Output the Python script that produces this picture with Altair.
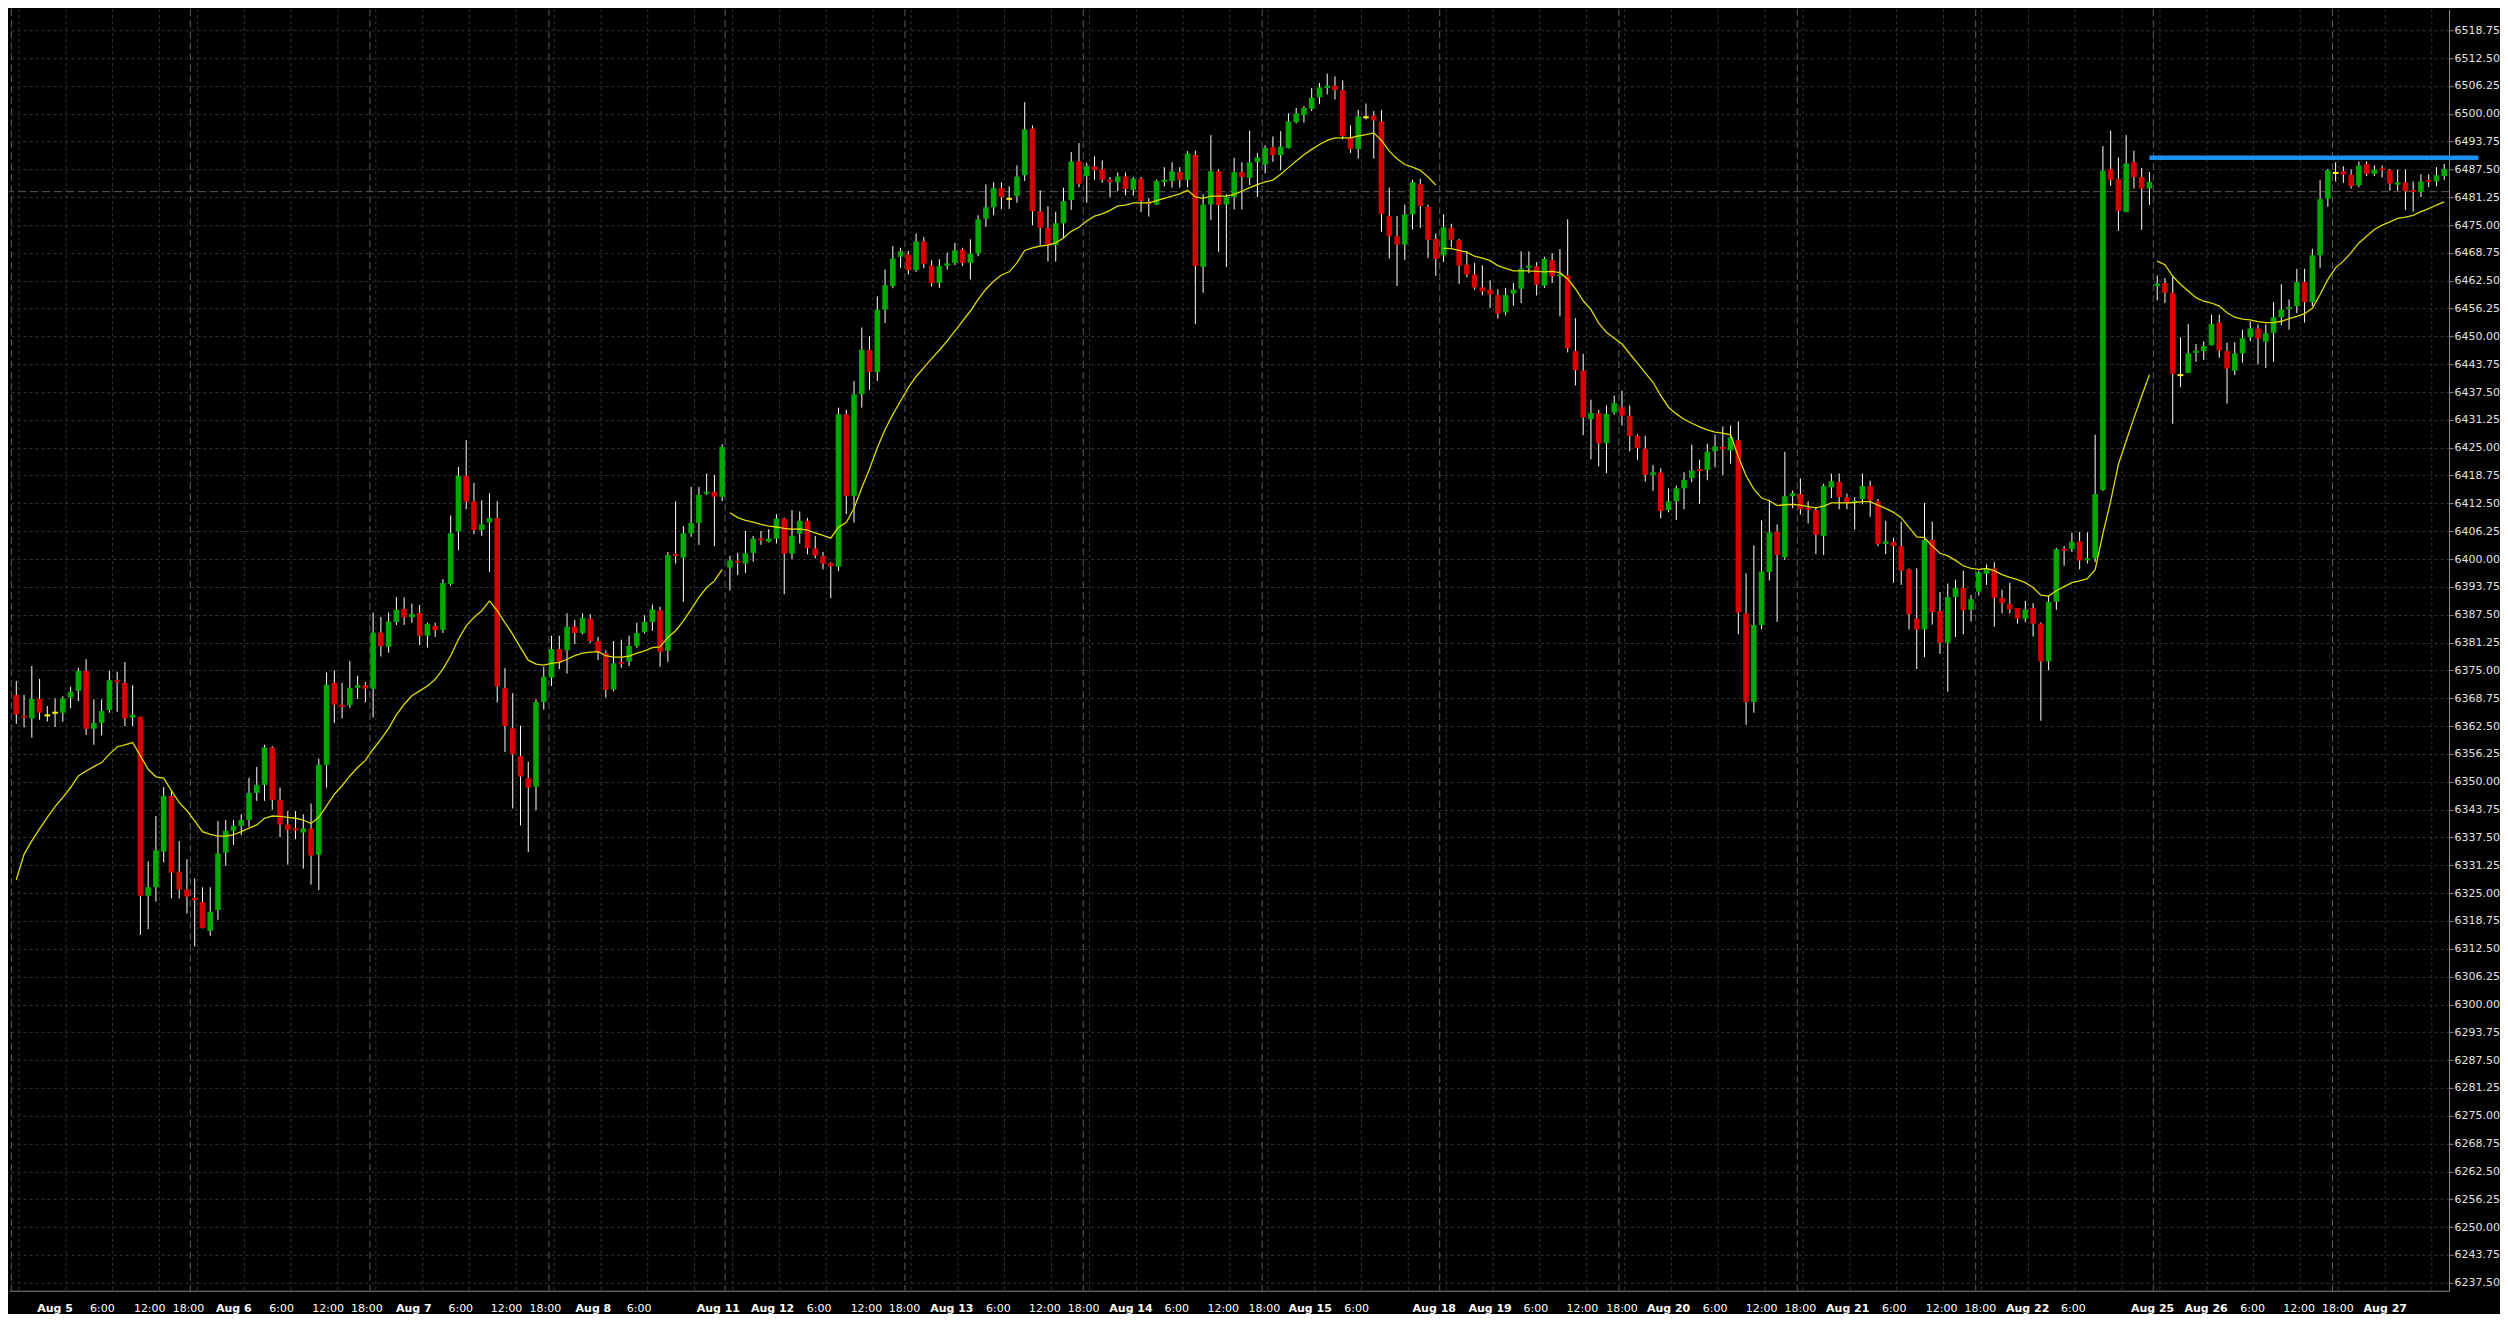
import altair as alt
import pandas as pd

# ---------------- data (hourly candles, index 0..313) ----------------
opens = [
6369.5,6364.8,6364.2,6368.6,6364.9,6365.5,6365.5,6368.9,6370.4,6374.9,
6361.9,6363.2,6366.1,6372.8,6372.2,6364.4,6364.6,6324.4,6326.3,6334.3,
6346.8,6329.8,6325.8,6323.9,6323.0,6316.5,6321.2,6334.1,6339.0,6340.1,
6341.4,6347.5,6349.3,6357.7,6345.9,6340.4,6339.5,6338.6,6339.5,6333.6,
6353.8,6372.2,6367.3,6367.2,6371.1,6371.7,6370.9,6383.5,6380.3,6385.9,
6388.8,6386.9,6387.9,6382.8,6385.0,6384.1,6394.4,6406.2,6418.7,6413.0,
6406.5,6408.2,6409.2,6371.0,6362.0,6355.7,6350.8,6348.9,6367.9,6373.4,
6379.8,6379.5,6384.8,6383.4,6386.6,6381.6,6378.9,6370.7,6376.9,6377.0,
6380.5,6383.6,6385.9,6388.5,6379.4,6401.1,6400.3,6405.8,6408.1,6414.7,
6415.1,6414.0,6398.1,6399.6,6399.0,6401.4,6404.6,6403.9,6404.6,6409.1,
6401.2,6405.7,6408.6,6402.4,6400.7,6399.1,6398.3,6432.5,6414.2,6437.0,
6447.0,6442.0,6456.0,6461.3,6467.9,6468.4,6464.9,6471.3,6465.9,6462.0,
6465.8,6466.5,6469.5,6466.5,6468.6,6476.4,6479.0,6483.3,6480.9,6481.5,
6486.2,6496.7,6478.1,6474.4,6470.5,6475.4,6480.6,6489.3,6486.0,6488.2,
6487.5,6485.2,6484.6,6485.9,6482.9,6485.4,6480.2,6479.6,6484.7,6484.9,
6486.9,6485.1,6490.7,6465.6,6479.6,6487.1,6479.6,6481.3,6486.9,6485.6,
6489.1,6488.6,6492.5,6490.7,6492.3,6498.1,6499.7,6501.1,6503.7,6505.8,
6506.3,6505.3,6494.7,6492.1,6499.2,6499.6,6498.3,6477.0,6472.5,6470.6,
6477.4,6484.2,6479.1,6471.9,6468.2,6474.4,6471.6,6466.1,6463.9,6461.0,
6460.5,6459.3,6455.4,6459.6,6460.7,6465.4,6465.8,6461.4,6467.1,6463.5,
6463.7,6446.7,6442.3,6431.4,6432.8,6426.0,6432.9,6434.1,6432.2,6427.7,
6424.8,6418.9,6419.4,6411.0,6413.0,6415.9,6418.2,6420.2,6420.0,6424.2,
6425.2,6424.4,6426.7,6387.8,6367.9,6385.2,6397.1,6406.2,6400.4,6414.1,
6414.6,6411.5,6411.0,6405.2,6416.1,6417.3,6413.9,6412.6,6413.5,6416.4,
6413.0,6403.4,6403.9,6402.9,6397.7,6386.6,6384.2,6404.3,6388.3,6381.2,
6391.5,6393.5,6388.6,6392.7,6396.7,6397.9,6391.3,6389.9,6389.0,6386.6,
6389.0,6385.5,6377.0,6390.4,6402.3,6402.3,6404.0,6399.7,6400.2,6415.5,
6487.5,6485.3,6477.9,6489.1,6485.8,6483.2,6461.3,6462.0,6459.8,6441.3,
6441.8,6446.3,6446.7,6448.0,6453.1,6446.7,6442.3,6446.2,6449.8,6451.8,
6448.8,6450.8,6454.3,6456.1,6456.8,6462.2,6457.7,6468.2,6480.9,6486.7,
6487.1,6486.3,6483.9,6488.7,6486.5,6487.7,6487.3,6484.1,6484.6,6482.8,
6482.4,6485.1,6484.8,6486.0]

highs = [
6372.6,6369.5,6376.0,6373.1,6367.0,6368.7,6369.2,6371.3,6375.6,6377.5,
6368.5,6368.5,6374.9,6374.7,6376.9,6371.7,6364.6,6332.1,6342.3,6348.8,
6347.9,6336.7,6332.6,6328.3,6326.3,6326.3,6341.2,6341.4,6341.4,6342.7,
6350.9,6353.3,6358.3,6358.0,6348.7,6343.4,6343.4,6342.7,6345.1,6355.2,
6374.5,6375.0,6372.2,6377.1,6373.8,6372.4,6388.0,6387.0,6388.0,6391.5,
6391.4,6390.0,6389.7,6385.7,6385.7,6395.5,6409.8,6420.7,6426.7,6417.1,
6413.2,6414.8,6413.0,6375.5,6369.9,6362.6,6354.5,6368.5,6375.8,6382.8,
6382.8,6387.8,6386.3,6387.8,6387.6,6382.5,6379.5,6381.6,6381.9,6382.8,
6385.7,6387.4,6389.8,6389.3,6401.6,6413.0,6407.4,6416.2,6416.2,6419.2,
6418.9,6425.8,6400.7,6401.4,6406.3,6405.2,6406.3,6406.7,6410.1,6409.3,
6411.0,6410.7,6409.2,6405.2,6401.6,6399.3,6434.0,6433.5,6440.0,6452.0,
6450.0,6459.0,6465.0,6470.3,6469.9,6469.2,6473.1,6472.3,6467.1,6467.3,
6468.8,6471.0,6469.9,6471.8,6477.2,6484.1,6484.6,6484.6,6483.7,6488.4,
6502.6,6497.4,6482.8,6479.2,6478.0,6483.4,6491.4,6493.4,6489.0,6490.4,
6489.5,6485.8,6486.8,6486.8,6485.8,6485.8,6481.1,6485.2,6488.0,6489.1,
6488.0,6491.6,6491.7,6481.9,6495.2,6487.5,6481.9,6490.1,6489.1,6496.2,
6491.2,6492.9,6494.9,6496.1,6500.1,6501.3,6501.7,6505.8,6506.9,6509.0,
6508.4,6507.5,6497.4,6500.9,6502.3,6500.6,6500.8,6483.4,6477.0,6479.6,
6485.2,6485.4,6479.6,6473.1,6477.4,6475.3,6471.9,6469.1,6466.5,6466.0,
6462.6,6460.6,6460.9,6462.0,6469.1,6469.1,6466.7,6467.9,6468.7,6469.6,
6476.3,6454.1,6446.1,6435.8,6433.5,6434.5,6436.7,6437.8,6434.5,6428.0,
6427.7,6421.1,6420.4,6415.9,6416.5,6419.5,6425.7,6422.3,6425.9,6427.9,
6429.8,6430.0,6430.9,6396.8,6403.1,6408.7,6413.3,6407.8,6424.1,6415.4,
6418.1,6413.0,6411.5,6416.9,6419.2,6419.2,6414.7,6413.9,6419.2,6417.6,
6413.5,6408.6,6404.8,6408.4,6397.9,6397.9,6412.6,6408.4,6392.6,6394.5,
6395.4,6397.4,6391.9,6397.4,6398.8,6399.3,6393.1,6394.7,6389.0,6390.6,
6390.1,6385.8,6391.8,6402.5,6402.9,6405.9,6406.1,6406.0,6427.9,6492.7,
6496.2,6490.2,6495.2,6491.7,6487.8,6486.9,6463.7,6463.1,6463.4,6449.8,
6452.8,6448.3,6448.9,6454.9,6454.9,6448.6,6448.7,6451.5,6453.4,6452.7,
6452.7,6457.7,6461.7,6458.3,6465.2,6465.2,6469.7,6485.1,6487.6,6489.1,
6488.2,6487.5,6489.3,6489.3,6488.4,6488.4,6487.6,6487.5,6487.5,6484.8,
6486.4,6486.4,6488.0,6488.7]

lows = [
6363.0,6362.2,6359.9,6363.9,6363.5,6362.3,6363.5,6366.5,6368.1,6360.5,
6358.3,6360.4,6365.5,6365.7,6362.5,6362.5,6315.6,6316.9,6323.1,6331.9,
6323.8,6323.8,6320.4,6313.0,6317.1,6315.4,6319.0,6331.1,6335.8,6338.0,
6339.9,6345.7,6345.7,6343.7,6337.5,6331.4,6337.1,6330.5,6326.9,6325.7,
6348.7,6363.2,6364.2,6366.6,6368.6,6367.8,6364.4,6378.1,6379.0,6385.2,
6385.2,6385.7,6380.7,6380.1,6382.5,6383.4,6394.0,6402.0,6411.2,6405.6,
6405.2,6397.1,6367.8,6356.7,6344.0,6340.2,6334.2,6343.6,6366.2,6371.5,
6375.3,6374.3,6380.9,6383.1,6381.2,6377.3,6368.9,6370.3,6375.6,6376.0,
6380.1,6383.3,6383.9,6375.8,6376.9,6399.0,6390.4,6405.0,6403.2,6414.4,
6402.9,6413.0,6392.9,6396.4,6396.9,6399.4,6403.2,6403.7,6403.5,6392.1,
6400.0,6403.5,6401.1,6400.2,6397.7,6391.2,6397.3,6410.1,6408.2,6434.0,
6438.0,6440.0,6453.0,6460.8,6465.4,6463.9,6464.5,6465.3,6461.2,6460.9,
6465.0,6466.0,6465.8,6462.8,6468.0,6474.6,6477.2,6478.6,6478.6,6480.0,
6484.9,6475.0,6470.6,6466.8,6466.8,6472.1,6478.4,6483.5,6480.0,6485.2,
6484.5,6481.3,6482.6,6481.7,6481.6,6477.9,6476.9,6479.5,6483.7,6483.4,
6483.4,6483.5,6452.8,6459.8,6476.1,6469.0,6465.6,6478.5,6478.5,6484.0,
6481.3,6486.6,6489.2,6487.3,6492.2,6497.8,6498.0,6500.6,6502.2,6504.3,
6503.2,6494.2,6491.2,6489.9,6498.7,6489.9,6473.5,6467.5,6461.3,6467.2,
6474.0,6474.4,6467.6,6463.6,6466.7,6470.0,6461.8,6463.3,6460.5,6459.2,
6456.4,6454.0,6454.7,6456.9,6457.5,6464.2,6459.2,6460.9,6462.0,6454.5,
6446.4,6439.0,6427.8,6422.4,6420.8,6419.3,6432.4,6430.0,6424.2,6422.3,
6417.4,6415.3,6409.1,6410.5,6408.8,6411.2,6417.3,6412.4,6417.7,6420.6,
6418.9,6421.4,6383.1,6362.8,6365.5,6384.2,6395.2,6385.9,6399.8,6411.4,
6410.0,6408.0,6401.1,6400.9,6413.7,6411.2,6411.2,6406.6,6412.3,6409.5,
6402.9,6401.1,6394.7,6394.2,6384.2,6375.3,6378.0,6385.3,6378.7,6370.2,
6382.5,6383.1,6386.0,6391.8,6394.2,6384.8,6387.8,6387.8,6385.5,6385.8,
6382.6,6363.7,6375.0,6388.6,6398.5,6401.6,6397.7,6399.0,6399.3,6415.3,
6483.8,6473.7,6477.9,6483.2,6473.9,6479.5,6458.1,6457.5,6430.4,6438.6,
6441.8,6444.3,6444.7,6448.0,6445.2,6434.9,6441.3,6444.1,6448.9,6443.7,
6442.9,6444.3,6452.5,6451.5,6455.2,6453.1,6456.8,6465.4,6479.1,6484.8,
6484.5,6483.2,6483.5,6486.0,6486.0,6485.7,6482.7,6482.7,6478.4,6478.0,
6481.3,6483.5,6483.7,6485.1]

closes = [
6365.1,6364.4,6368.6,6365.5,6364.9,6365.5,6368.7,6370.2,6374.9,6361.9,
6363.2,6365.9,6372.8,6372.3,6364.2,6365.0,6324.4,6326.3,6334.6,6346.8,
6329.6,6325.8,6324.2,6323.4,6317.1,6320.8,6333.9,6339.0,6340.1,6341.4,
6347.5,6349.3,6357.7,6345.9,6340.4,6339.2,6339.1,6339.5,6333.4,6353.8,
6371.8,6367.3,6366.8,6371.1,6371.7,6370.9,6383.5,6380.5,6386.0,6388.6,
6386.9,6387.7,6382.8,6385.4,6384.0,6394.6,6405.8,6418.7,6412.9,6406.5,
6407.8,6409.2,6371.4,6362.5,6356.2,6351.2,6348.7,6367.9,6373.6,6379.8,
6377.0,6384.8,6383.4,6386.8,6381.6,6379.0,6370.6,6376.6,6376.5,6380.5,
6383.4,6385.9,6388.7,6379.2,6400.9,6400.8,6405.8,6408.1,6414.4,6415.1,
6414.0,6425.2,6399.7,6399.2,6401.3,6404.6,6404.2,6404.6,6409.1,6401.2,
6405.2,6408.6,6402.4,6400.8,6399.0,6398.4,6432.5,6414.2,6437.0,6447.0,
6442.0,6456.0,6461.5,6467.5,6469.1,6464.9,6471.3,6466.3,6462.0,6465.8,
6466.4,6469.3,6466.5,6468.6,6476.3,6479.0,6483.3,6481.3,6480.9,6485.9,
6496.5,6478.1,6474.4,6470.5,6475.4,6480.4,6489.3,6484.3,6488.2,6487.3,
6485.2,6484.7,6485.9,6483.1,6485.4,6480.4,6479.8,6484.9,6485.2,6487.1,
6485.1,6491.1,6465.8,6479.6,6487.1,6479.5,6481.3,6486.9,6485.8,6489.1,
6490.2,6492.3,6490.7,6492.6,6498.3,6500.1,6501.3,6503.6,6505.9,6506.3,
6505.3,6495.0,6492.1,6499.4,6499.2,6498.5,6477.5,6472.5,6470.6,6477.4,
6484.6,6479.3,6471.7,6467.4,6474.5,6471.7,6465.9,6463.9,6461.0,6460.1,
6459.4,6455.1,6459.3,6460.5,6465.2,6465.9,6461.6,6467.4,6463.5,6463.9,
6447.3,6442.4,6431.8,6432.8,6426.0,6432.6,6435.0,6432.2,6427.6,6424.9,
6418.9,6419.5,6410.8,6413.0,6415.9,6417.8,6419.9,6419.8,6424.1,6425.3,
6424.7,6427.3,6388.0,6367.9,6385.2,6397.2,6406.0,6400.9,6414.1,6414.8,
6411.2,6411.1,6405.5,6416.4,6417.5,6413.9,6412.6,6413.0,6416.4,6413.2,
6403.4,6404.0,6402.9,6397.4,6387.6,6384.2,6404.3,6388.1,6381.2,6391.5,
6393.5,6388.5,6391.0,6397.0,6397.9,6391.3,6390.1,6388.7,6386.6,6388.7,
6385.5,6377.0,6390.4,6402.2,6401.9,6403.9,6399.7,6400.2,6414.6,6487.2,
6485.1,6478.2,6488.8,6485.8,6483.2,6484.7,6461.9,6459.8,6441.6,6441.3,
6446.2,6446.8,6447.8,6452.8,6446.8,6442.8,6446.2,6449.6,6451.8,6449.5,
6450.7,6454.3,6456.0,6456.6,6462.2,6457.7,6468.2,6480.8,6487.3,6486.7,
6486.3,6483.7,6488.4,6486.5,6487.5,6487.3,6484.3,6484.6,6482.6,6482.5,
6484.8,6484.7,6486.2,6487.6]

# moving-average line (yellow), one reading per candle
ma = [
6328.0,6333.7,6336.7,6339.4,6342.0,6344.4,6346.5,6348.7,6351.3,6352.4,
6353.4,6354.3,6356.2,6357.8,6358.3,6358.8,6355.8,6352.8,6351.1,6350.8,
6348.0,6345.3,6343.5,6341.2,6338.8,6338.2,6337.8,6337.8,6338.1,6338.8,
6339.6,6340.3,6341.8,6342.3,6342.2,6342.0,6341.8,6341.4,6340.6,6342.0,
6344.6,6347.2,6349.1,6351.3,6353.2,6354.8,6357.3,6359.5,6362.0,6365.0,
6367.4,6369.3,6370.4,6371.5,6373.0,6375.3,6378.3,6382.0,6385.0,6386.9,
6388.4,6390.6,6388.4,6385.7,6383.1,6380.1,6377.3,6376.4,6376.2,6376.6,
6376.8,6377.5,6378.3,6378.9,6379.1,6379.2,6378.3,6378.0,6378.0,6378.2,
6378.9,6379.4,6380.1,6380.3,6382.4,6383.9,6386.1,6388.7,6391.4,6393.6,
6395.1,6397.7,6410.4,6409.3,6408.7,6408.3,6407.8,6407.4,6407.2,6406.9,
6406.7,6406.8,6406.5,6405.9,6405.3,6404.7,6407.2,6408.2,6411.4,6416.0,
6420.3,6425.0,6429.1,6432.5,6435.5,6438.5,6441.0,6443.0,6445.0,6446.9,
6449.0,6451.2,6453.5,6455.7,6458.3,6460.6,6462.4,6463.8,6464.5,6466.5,
6469.3,6469.9,6470.3,6470.5,6471.0,6472.1,6473.6,6474.5,6475.9,6477.0,
6477.5,6478.3,6479.3,6479.5,6480.0,6480.0,6480.0,6480.5,6481.0,6481.5,
6482.0,6482.8,6481.3,6481.0,6481.5,6481.5,6481.5,6481.9,6482.6,6483.4,
6484.1,6484.7,6485.1,6486.4,6487.9,6489.4,6490.8,6492.0,6493.1,6494.0,
6494.6,6494.6,6494.6,6495.0,6495.3,6495.7,6494.0,6491.6,6489.9,6488.6,
6488.0,6487.3,6485.8,6484.0,6469.8,6469.7,6469.3,6468.9,6468.0,6467.6,
6467.0,6465.9,6465.3,6464.7,6464.7,6464.7,6464.6,6464.5,6464.6,6464.3,
6462.9,6460.7,6458.0,6456.0,6453.0,6450.9,6449.6,6448.3,6446.1,6444.0,
6441.8,6439.7,6436.7,6434.1,6432.6,6431.4,6430.5,6429.7,6429.0,6428.5,
6428.3,6427.9,6423.0,6418.7,6415.7,6413.7,6413.1,6412.0,6412.2,6412.3,
6412.1,6411.8,6411.5,6411.9,6412.6,6412.6,6412.6,6412.7,6412.9,6412.9,
6412.1,6411.4,6410.5,6409.3,6407.1,6405.0,6404.8,6402.9,6401.3,6400.7,
6399.7,6398.5,6397.9,6397.7,6397.9,6397.4,6396.5,6395.9,6395.4,6394.7,
6393.6,6391.9,6391.7,6392.9,6393.8,6394.7,6395.1,6395.6,6397.6,6405.7,
6413.0,6421.3,6426.5,6431.7,6436.6,6441.4,6466.9,6466.1,6463.5,6461.7,
6460.2,6458.7,6457.9,6457.5,6456.8,6455.3,6454.3,6453.9,6453.7,6453.3,
6453.1,6453.1,6453.4,6454.0,6454.5,6455.1,6456.3,6459.4,6462.8,6465.4,
6466.9,6468.8,6471.0,6472.5,6474.0,6475.0,6475.7,6476.5,6476.8,6477.2,
6478.0,6478.7,6479.5,6480.2]

week_starts = [0, 92, 184, 276]
day_starts = [0, 23, 46, 69, 92, 115, 138, 161, 184, 207, 230, 253, 276, 299]
separator_pos = [-0.64, 22.44, 45.59, 68.67, 91.38, 114.56, 137.55, 160.62,
                 183.5, 206.6, 229.6, 252.6, 275.5, 298.6]
minor_offsets = [0.35, 6.4, 12.4, 18.45]

date_labels = ["Aug 5", "Aug 6", "Aug 7", "Aug 8", "Aug 11", "Aug 12", "Aug 13",
               "Aug 14", "Aug 15", "Aug 18", "Aug 19", "Aug 20", "Aug 21",
               "Aug 22", "Aug 25", "Aug 26", "Aug 27"]
date_pos = [4.99, 28.05, 51.25, 74.4, 90.5, 97.5, 120.6, 143.7, 166.8, 182.8,
            190.0, 213.0, 236.1, 259.3, 275.4, 282.3, 305.4]
time_labels = ["6:00", "12:00", "18:00", "6:00", "12:00", "18:00", "6:00", "12:00",
               "18:00", "6:00", "6:00", "12:00", "18:00", "6:00", "12:00", "18:00",
               "6:00", "12:00", "18:00", "6:00", "6:00", "12:00", "18:00", "6:00",
               "12:00", "18:00", "6:00", "12:00", "18:00", "6:00", "6:00", "12:00",
               "18:00"]
time_pos = [11.1, 17.2, 22.2, 34.2, 40.2, 45.2, 57.3, 63.2, 68.2, 80.3, 103.5, 109.6,
            114.5, 126.6, 132.6, 137.6, 149.6, 155.6, 160.9, 172.8, 195.9, 201.9,
            207.0, 219.0, 225.0, 230.0, 242.1, 248.2, 253.2, 265.2, 288.3, 294.3,
            299.3]

price_line = 6482.5
level_value = 6490.1
level_from, level_to = 275.0, 317.4

y_ticks = [6237.5 + 6.25 * k for k in range(46)]

# ---------------- tables ----------------
n = len(opens)
rows = []
for i in range(n):
    o, h, l, c = opens[i], highs[i], lows[i], closes[i]
    h = max(h, o, c)
    l = min(l, o, c)
    top, bot = max(o, c), min(o, c)
    if top - bot < 0.45:
        mid = (top + bot) / 2
        top, bot = mid + 0.225, mid - 0.225
    kind = "up" if c > o else ("down" if c < o else "doji")
    seg = sum(1 for w in week_starts if i >= w)
    rows.append(dict(i=i, xl=i - 0.36, xr=i + 0.36, hi=h, lo=l, top=top, bot=bot,
                     kind=kind, ma=ma[i], seg=seg))
df = pd.DataFrame(rows)

XMIN, XMAX = -0.941, 313.62
YMIN, YMAX = 6235.70, 6523.46
W, H = 2441, 1282

minor = [d + m for d in day_starts for m in minor_offsets if d + m <= XMAX]
df_minor = pd.DataFrame({"x": minor})
df_sep = pd.DataFrame({"x": separator_pos})
df_dates = pd.DataFrame({"t": date_labels, "x": date_pos})
df_times = pd.DataFrame({"t": time_labels, "x": time_pos})
df_price = pd.DataFrame({"y": [price_line]})
df_level = pd.DataFrame({"x": [level_from], "x2": [level_to], "y": [level_value]})

xs = alt.Scale(domain=[XMIN, XMAX], nice=False, zero=False)
ys = alt.Scale(domain=[YMIN, YMAX], nice=False, zero=False)
xax = alt.Axis(orient="bottom", labels=False, ticks=False, grid=False, domain=True,
               domainColor="#8c8c8c", domainWidth=1, title=None)
yax = alt.Axis(orient="right", values=y_ticks, format=".2f", grid=True,
               gridColor="#343434", gridDash=[3, 3], gridWidth=1,
               tickSize=4, tickColor="#8c8c8c", domainColor="#8c8c8c",
               labelColor="#e2e2e2", labelFont="DejaVu Sans", labelFontSize=11,
               labelPadding=1, labelOverlap=False, title=None)

base = alt.Chart(df)

minor_grid = alt.Chart(df_minor).mark_rule(color="#343434", strokeDash=[3, 3], strokeWidth=1).encode(
    x=alt.X("x:Q", scale=xs, axis=xax))
seps = alt.Chart(df_sep).mark_rule(color="#5c5c5c", strokeDash=[7, 4], strokeWidth=1).encode(
    x=alt.X("x:Q", scale=xs, axis=xax))
price = alt.Chart(df_price).mark_rule(color="#5a5a5a", strokeDash=[8, 4], strokeWidth=1).encode(
    y=alt.Y("y:Q", scale=ys, axis=yax))

wicks = base.mark_rule(color="#ffffff", strokeWidth=1).encode(
    x=alt.X("i:Q", scale=xs, axis=xax),
    y=alt.Y("lo:Q", scale=ys, axis=yax),
    y2="hi:Q")

bodies = base.mark_rect().encode(
    x=alt.X("xl:Q", scale=xs, axis=xax),
    x2="xr:Q",
    y=alt.Y("bot:Q", scale=ys, axis=yax),
    y2="top:Q",
    color=alt.Color("kind:N", scale=alt.Scale(domain=["up", "down", "doji"],
                                              range=["#00a800", "#d60000", "#ffff00"]),
                    legend=None))

ma_line = base.mark_line(color="#dcdc00", strokeWidth=1.3).encode(
    x=alt.X("i:Q", scale=xs, axis=xax),
    y=alt.Y("ma:Q", scale=ys, axis=yax),
    detail="seg:N")

level = alt.Chart(df_level).mark_rule(color="#1e90f0", strokeWidth=4.5, clip=False).encode(
    x=alt.X("x:Q", scale=xs, axis=xax), x2="x2:Q",
    y=alt.Y("y:Q", scale=ys, axis=yax))

dates = alt.Chart(df_dates).mark_text(font="DejaVu Sans", fontSize=11, fontWeight="bold",
                                      color="#ffffff", baseline="middle", align="center").encode(
    x=alt.X("x:Q", scale=xs, axis=xax), y=alt.value(H + 18), text="t:N")
times = alt.Chart(df_times).mark_text(font="DejaVu Sans", fontSize=11, fontWeight="normal",
                                      color="#ffffff", baseline="middle", align="center").encode(
    x=alt.X("x:Q", scale=xs, axis=xax), y=alt.value(H + 18), text="t:N")

chart = alt.layer(minor_grid, seps, price, wicks, bodies, ma_line, level, dates, times).properties(
    width=W, height=H, padding=0
).configure(background="#000000").configure_view(stroke=None)

chart.save("out.html", embed_options={"renderer": "svg", "actions": False})
